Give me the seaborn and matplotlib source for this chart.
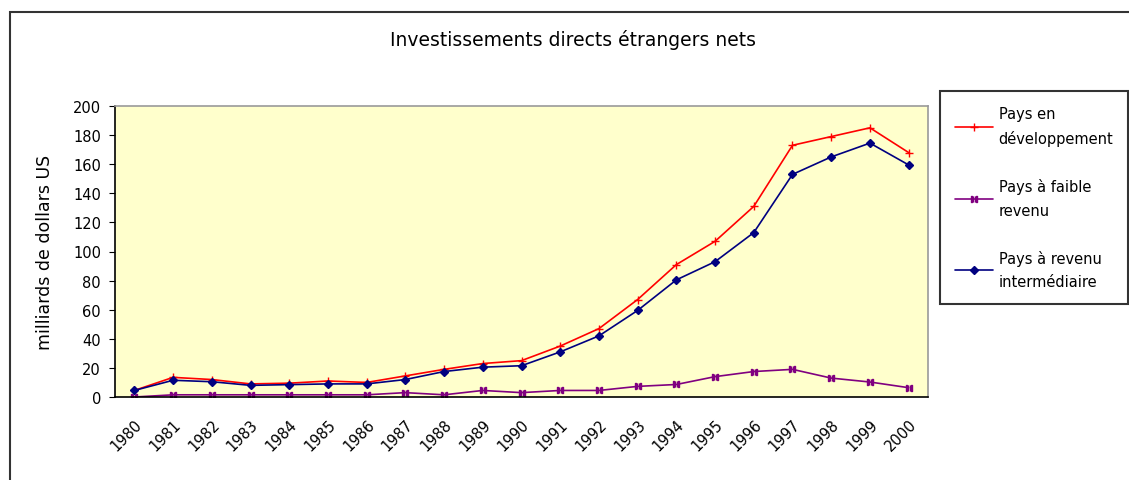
import pandas as pd
import seaborn as sns
import matplotlib.pyplot as plt
from matplotlib.patches import Rectangle

years = [str(y) for y in range(1980, 2001)]

# valeurs (milliards de dollars US)
pays_en_dev = [4.5, 13.5, 12, 9, 9.5, 11, 10, 14.5, 19, 23, 25,
               35, 47, 67, 91, 107, 131, 173, 179, 185, 168]
faible_revenu = [0, 1.5, 1.5, 1.5, 1.5, 1.5, 1.5, 3, 1.5, 4.5, 3,
                 4.5, 4.5, 7.3, 8.6, 14, 17.5, 19, 13, 10.3, 6.4]
revenu_interm = [4.5, 11.5, 10.5, 8, 8.5, 9, 9, 12, 17.5, 20.5, 21.5,
                 31, 42, 59.5, 80.5, 93, 113, 153, 165, 174.5, 159.5]

labels = ["Pays en\ndéveloppement", "Pays à faible\nrevenu", "Pays à revenu\nintermédiaire"]
colors = ["#FF0000", "#800080", "#000080"]
markers = ["+", "$\\|\\|$", "D"]

df = pd.DataFrame({
    "x": list(range(len(years))) * 3,
    "value": pays_en_dev + faible_revenu + revenu_interm,
    "serie": [labels[0]] * len(years) + [labels[1]] * len(years) + [labels[2]] * len(years),
})

sns.set_style("white")
plt.rcParams['font.family'] = ['DejaVu Sans']
plt.rcParams['text.color'] = 'black'
plt.rcParams['axes.labelcolor'] = 'black'
plt.rcParams['xtick.color'] = 'black'
plt.rcParams['ytick.color'] = 'black'

fig = plt.figure(figsize=(11.29, 4.81), dpi=100)
ax = fig.add_axes([115 / 1129, 1 - 398 / 481, 813 / 1129, 291 / 481])

sizes = {labels[0]: 6, labels[1]: 5, labels[2]: 4}
for lab, col, mk in zip(labels, colors, markers):
    sub = df[df["serie"] == lab]
    sns.lineplot(data=sub, x="x", y="value", color=col, marker=mk, markersize=sizes[lab],
                 markeredgecolor=col, markerfacecolor=col, markeredgewidth=1,
                 linewidth=1.2, ax=ax, label=lab)

ax.set_facecolor("#FFFFCC")
ax.set_xlim(-0.5, len(years) - 0.5)
ax.set_ylim(0, 200)
ax.set_yticks(range(0, 201, 20))
ax.set_xticks(range(len(years)))
ax.set_xticklabels(years, rotation=45, ha="right", rotation_mode="anchor", fontsize=10.5)
ax.set_xticks([i - 0.5 for i in range(len(years) + 1)], minor=True)
ax.tick_params(axis="x", which="major", length=0, pad=14)
ax.tick_params(axis="x", which="minor", length=4, direction="out", color="black")
ax.tick_params(axis="y", length=4, direction="out", color="black", labelsize=10.5, left=True, pad=6)
ax.set_xlabel("")
ax.set_ylabel("milliards de dollars US", fontsize=12.5, labelpad=14)

for side in ["top", "right"]:
    ax.spines[side].set_color("#999999")
    ax.spines[side].set_linewidth(1.2)
for side in ["left", "bottom"]:
    ax.spines[side].set_color("black")
    ax.spines[side].set_linewidth(1.2)

fig.text(573 / 1129, 1 - 40 / 481, "Investissements directs étrangers nets",
         ha="center", va="center", fontsize=13.5)

ax.get_legend().remove()
handles, labs = ax.get_legend_handles_labels()
leg = fig.legend(handles, labs, loc="upper left", bbox_to_anchor=(936 / 1129, 1 - 88 / 481),
                 frameon=True, fancybox=False, fontsize=10.5, labelspacing=2.2,
                 handlelength=2.6, borderpad=1.0, handletextpad=0.4, borderaxespad=0.3)
for t in leg.get_texts():
    t.set_linespacing(1.7)
leg.get_frame().set_edgecolor("black")
leg.get_frame().set_linewidth(1.5)

# cadre de la zone du graphique
fig.patches.append(Rectangle((10 / 1129, -0.1), 1.2, 1 - 13 / 481 + 0.1, transform=fig.transFigure,
                             fill=False, edgecolor="#333333", linewidth=1.5))

fig.savefig("out.png", dpi=100)
